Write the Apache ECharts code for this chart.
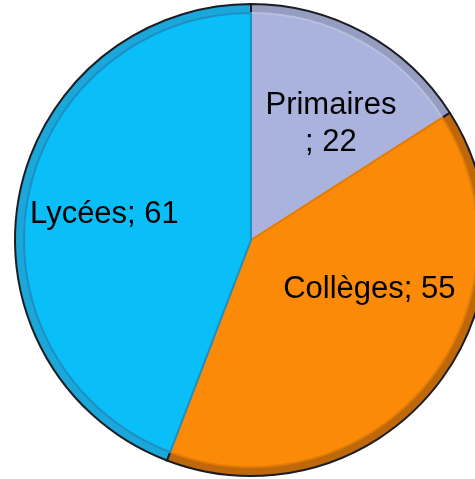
<!DOCTYPE html>
<html>
<head>
<meta charset="utf-8">
<script src="https://cdn.jsdelivr.net/npm/echarts@6/dist/echarts.min.js"></script>
<style>
  html, body { margin: 0; padding: 0; background: #fff; }
  #chart { width: 475px; height: 479px; }
</style>
</head>
<body>
<div id="chart"></div>
<script>
// données
const categories = ["Primaires", "Collèges", "Lycées"];
const values = [22, 55, 61];

// couleurs : remplissage et biseau extérieur
const fillColors = ["#A9B3DD", "#FA8A07", "#0ABEF8"];
const bevelColors = ["#959DC0", "#BE680B", "#1AA8DA"];
const edgeColors = ["#B7BFE2", "#E07C06", "#1E8FC4"];
const labelOffsets = [[24, -14], [28, -24], [-32, -4]];

const myChart = echarts.init(document.getElementById("chart"));

const option = {
  backgroundColor: "#ffffff",
  animation: false,
  series: [
    {
      // anneau du biseau
      type: "pie",
      center: [251, 240],
      radius: [0, 236],
      startAngle: 90,
      clockwise: true,
      silent: true,
      label: { show: false },
      labelLine: { show: false },
      data: categories.map((name, i) => ({
        name,
        value: values[i],
        itemStyle: {
          color: bevelColors[i],
          borderColor: "#1c1c24",
          borderWidth: 2,
        },
      })),
    },
    {
      type: "pie",
      center: [251, 240],
      radius: [0, 227],
      startAngle: 90,
      clockwise: true,
      silent: true,
      labelLine: { show: false },
      label: {
        show: true,
        position: "inside",
        fontFamily: "Liberation Sans, Arial, sans-serif",
        fontSize: 31,
        color: "#000",
        lineHeight: 37,
      },
      data: categories.map((name, i) => ({
        name,
        value: values[i],
        itemStyle: {
          color: fillColors[i],
          borderColor: edgeColors[i],
          borderWidth: 2,
        },
        label: {
          formatter: i === 0 ? "{b}\n; {c}" : "{b}; {c}",
          offset: labelOffsets[i],
        },
      })),
    },
  ],
};

myChart.setOption(option);
</script>
</body>
</html>
